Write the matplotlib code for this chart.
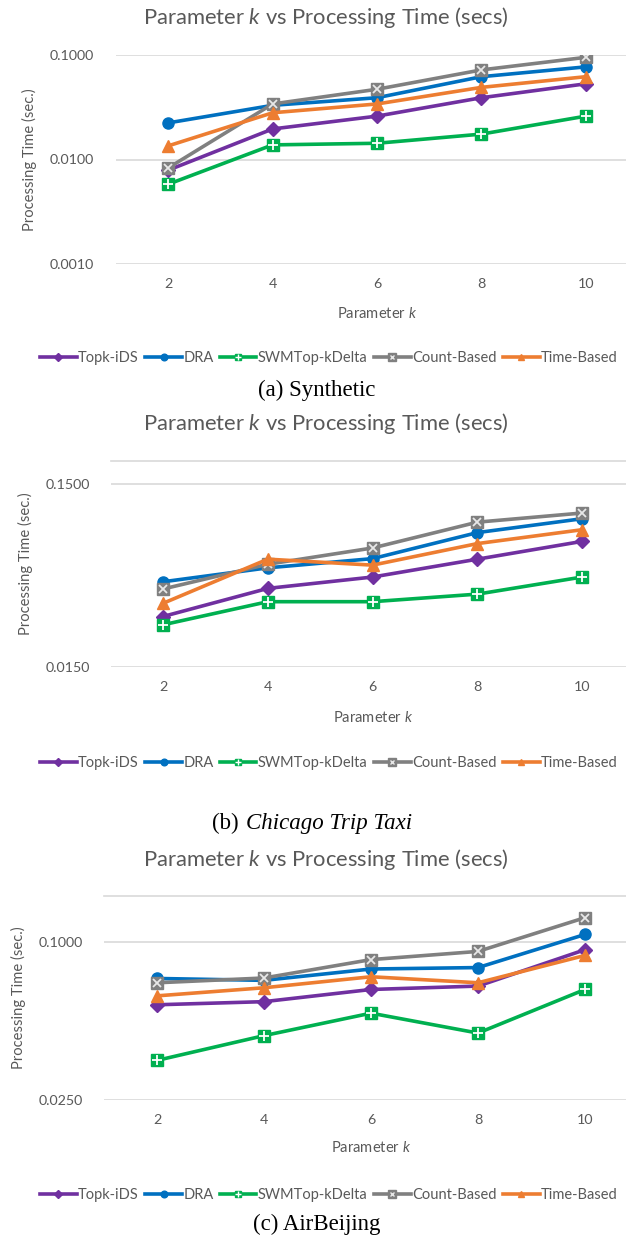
import numpy as np
import matplotlib
matplotlib.use("Agg")
import matplotlib.pyplot as plt
from matplotlib.ticker import FixedLocator, NullLocator
from matplotlib.lines import Line2D

plt.rcParams['font.family'] = ['Lato', 'DejaVu Sans']
plt.rcParams['mathtext.fontset'] = 'custom'
plt.rcParams['mathtext.rm'] = 'Lato'
plt.rcParams['mathtext.it'] = 'Lato:italic'

k_values = [2, 4, 6, 8, 10]
series_names = ["Topk-iDS", "DRA", "SWMTop-kDelta", "Count-Based", "Time-Based"]

# (a) Synthetic
syn_topk = [0.0079, 0.0196, 0.026, 0.039, 0.053]
syn_dra = [0.0224, 0.033, 0.039, 0.062, 0.077]
syn_swm = [0.0058, 0.0138, 0.0143, 0.0175, 0.026]
syn_count = [0.0083, 0.034, 0.047, 0.072, 0.095]
syn_time = [0.0135, 0.028, 0.034, 0.049, 0.062]

# (b) Chicago Trip Taxi
chi_topk = [0.0283, 0.0403, 0.0465, 0.0582, 0.0728]
chi_dra = [0.0438, 0.0522, 0.0586, 0.0813, 0.0968]
chi_swm = [0.0255, 0.0341, 0.0341, 0.0375, 0.0465]
chi_count = [0.040, 0.0546, 0.067, 0.0927, 0.104]
chi_time = [0.0334, 0.0582, 0.054, 0.0708, 0.0843]

# (c) AirBeijing
air_topk = [0.0577, 0.0593, 0.066, 0.068, 0.0936]
air_dra = [0.0727, 0.0715, 0.079, 0.080, 0.107]
air_swm = [0.0354, 0.044, 0.0536, 0.045, 0.066]
air_count = [0.070, 0.073, 0.0858, 0.0922, 0.124]
air_time = [0.0624, 0.067, 0.0738, 0.070, 0.089]

colors = ["#7030A0", "#0070C0", "#00B050", "#808080", "#ED7D31"]
markers = ["D", "o", "s", "s", "^"]
msizes = [7, 8, 8, 9, 8]

W, H = 626, 1238
fig = plt.figure(figsize=(W / 100, H / 100), dpi=100)

def fx(px):
    return px / W

def fy(py):
    return 1 - py / H

txt = "#595959"
grid_c = "#D9D9D9"

def panel(left, right, top, bottom, ylim, base, yticks, ylabels, data,
          title_y, tick_pad, xlabel_y, legend_y, top_line):
    ax = fig.add_axes([fx(left), fy(bottom), fx(right - left), (bottom - top) / H])
    ax.set_yscale('log', base=base)
    ax.set_ylim(*ylim)
    ax.set_xlim(1, 11)
    for i, ys in enumerate(data):
        ax.plot(k_values, ys, color=colors[i], lw=2.6, marker=markers[i],
                ms=msizes[i], mec=colors[i], mfc=colors[i], zorder=3 + i * 0.1,
                solid_joinstyle='round')
        if i == 2:
            ax.plot(k_values, ys, ls='none', marker='+', ms=7, mew=1.3,
                    color='white', zorder=3.25)
        if i == 3:
            ax.plot(k_values, ys, ls='none', marker='x', ms=6, mew=1.3,
                    color='#E8E8E8', zorder=3.35)
    ax.yaxis.set_major_locator(FixedLocator(yticks))
    ax.yaxis.set_minor_locator(NullLocator())
    ax.set_yticklabels(ylabels)
    ax.set_xticks(k_values)
    ax.set_xticklabels([str(k) for k in k_values])
    ax.grid(axis='y', color=grid_c, lw=1.2)
    ax.set_axisbelow(True)
    for s in ax.spines.values():
        s.set_visible(False)
    if top_line:
        ax.spines['top'].set_visible(True)
        ax.spines['top'].set_color(grid_c)
        ax.spines['top'].set_linewidth(1.2)
    ax.tick_params(length=0, labelsize=10.3, labelcolor=txt)
    ax.tick_params(axis='y', pad=tick_pad)
    ax.tick_params(axis='x', pad=10)
    ax.set_ylabel("Processing Time (sec.)", fontsize=10.6, color=txt, labelpad=9)
    ax.set_facecolor('none')
    fig.text(fx(326), fy(title_y), "Parameter $\\mathit{k}$ vs Processing Time (secs)",
             ha='center', va='center', fontsize=15.8, color=txt)
    fig.text(fx((left + right) / 2), fy(xlabel_y), "Parameter $\\mathit{k}$",
             ha='center', va='center', fontsize=10.6, color=txt)
    handles = []
    for i in range(5):
        h = Line2D([0], [0], color=colors[i], lw=2.6, marker=markers[i],
                   ms=msizes[i] * 0.6, mfc=colors[i], mec=colors[i])
        if i == 2:
            h = (h, Line2D([0], [0], ls='none', marker='+', ms=4, mew=1,
                           color='white'))
        if i == 3:
            h = (h, Line2D([0], [0], ls='none', marker='x', ms=3.5, mew=1,
                           color='#E8E8E8'))
        handles.append(h)
    fig.legend(handles, series_names, loc='center', ncol=5,
               bbox_to_anchor=(fx(329), fy(legend_y)), frameon=False,
               fontsize=10.5, labelcolor=txt, handlelength=2.5,
               handletextpad=0.1, columnspacing=0.45, borderaxespad=0)
    return ax

panel(116, 638, 55, 264, (0.001, 0.1), 10, [0.001, 0.01, 0.1],
      ["0.0010", "0.0100", "0.1000"],
      [syn_topk, syn_dra, syn_swm, syn_count, syn_time],
      18, 16, 313, 358, False)
panel(110.6, 634.6, 461, 667, (0.015, 0.2), 10, [0.015, 0.15],
      ["0.0150", "0.1500"],
      [chi_topk, chi_dra, chi_swm, chi_count, chi_time],
      424, 15, 717, 763, True)
panel(103.5, 638.5, 896, 1100, (0.025, 0.15), 4, [0.025, 0.1],
      ["0.0250", "0.1000"],
      [air_topk, air_dra, air_swm, air_count, air_time],
      859, 15, 1147, 1195, True)

serif = "Liberation Serif"
fig.text(fx(317), fy(390), "(a) Synthetic", ha='center', va='center',
         fontsize=16.5, family=serif, color='black')
fig.text(fx(239), fy(823), "(b)", ha='right', va='center',
         fontsize=16.5, family=serif, color='black')
fig.text(fx(246), fy(823), "Chicago Trip Taxi", ha='left', va='center',
         fontsize=16.5, family=serif, style='italic', color='black')
fig.text(fx(317), fy(1224), "(c) AirBeijing", ha='center', va='center',
         fontsize=16.5, family=serif, color='black')

fig.savefig("out.png", dpi=100, facecolor='white')
